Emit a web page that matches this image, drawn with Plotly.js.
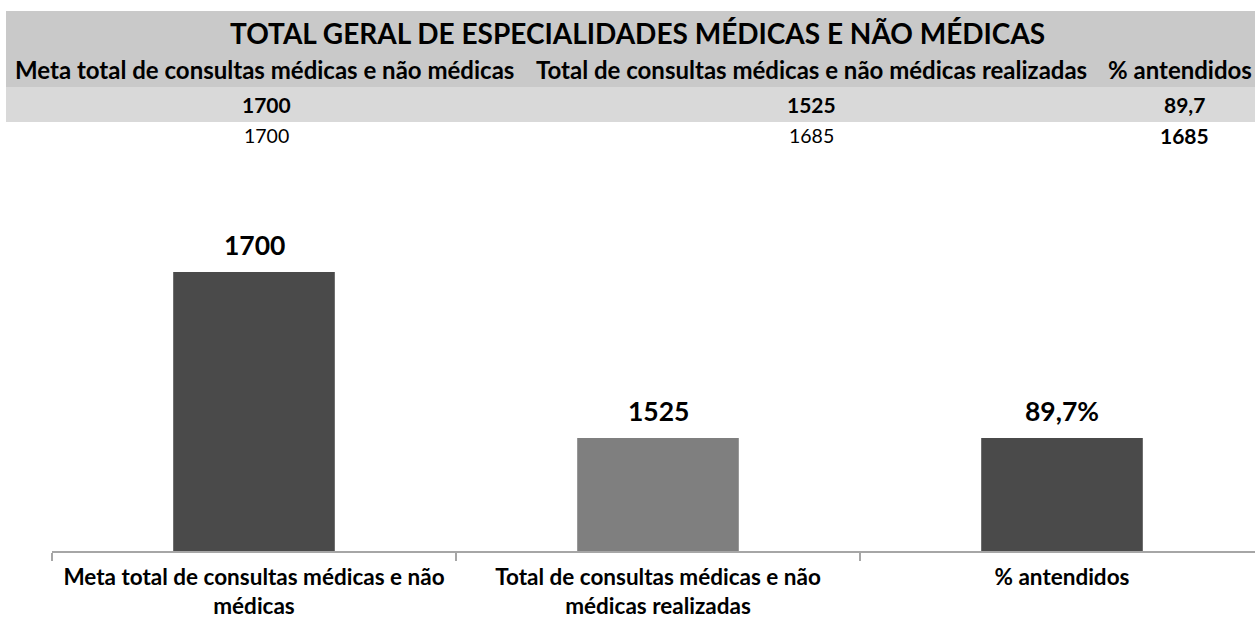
<!DOCTYPE html>
<html>
<head>
<meta charset="utf-8">
<script src="https://cdn.plot.ly/plotly-3.0.1.min.js"></script>
<style>html,body{margin:0;padding:0;background:#fff;}#chart{width:1255px;height:624px;}</style>
</head>
<body>
<div id="chart"></div>
<script>
// ---- data ----
const chartTitle = "TOTAL GERAL DE ESPECIALIDADES MÉDICAS E NÃO MÉDICAS";
const tableHeaders = ["Meta total de consultas médicas e não médicas", "Total de consultas médicas e não médicas realizadas", "% antendidos"];
const tableRow1 = ["1700", "1525", "89,7"];
const tableRow2 = ["1700", "1685", "1685"];
const tableRow2Bold = [false, false, true];
const categories = ["Meta total de consultas médicas e não médicas", "Total de consultas médicas e não médicas realizadas", "% antendidos"];
const tickLabels = ["Meta total de consultas médicas e não<br>médicas", "Total de consultas médicas e não<br>médicas realizadas", "% antendidos"];
const barValues = [1700, 1525, 1525];
const barLabels = ["1700", "1525", "89,7%"];
const barColors = ["#4a4a4a", "#7f7f7f", "#4a4a4a"];

// ---- layout geometry (pixels) ----
const W = 1255, H = 624;
const PL = 52, PR = 1255, PT = 200, PB = 551;
const FONT = "Lato, 'Open Sans', sans-serif";
const px = v => (v - PL) / (PR - PL);
const py = v => (PB - v) / (PB - PT);

const shapes = [
  {type: "rect", xref: "paper", yref: "paper", x0: px(6), x1: px(1255), y0: py(87), y1: py(11), fillcolor: "#c9c9c9", line: {width: 0}, layer: "below"},
  {type: "rect", xref: "paper", yref: "paper", x0: px(6), x1: px(1255), y0: py(122), y1: py(87), fillcolor: "#d9d9d9", line: {width: 0}, layer: "below"}
];

const headerCenters = [264, 811, 1180];
const valueCenters = [266, 811, 1184];
const annotations = [];
annotations.push({xref: "paper", yref: "paper", x: px(637), y: py(33), text: "<b>" + chartTitle + "</b>", showarrow: false, xanchor: "center", yanchor: "middle", font: {family: FONT, size: 28, color: "#000"}});
tableHeaders.forEach((h, i) => annotations.push({xref: "paper", yref: "paper", x: px(headerCenters[i]), y: py(70), text: "<b>" + h + "</b>", showarrow: false, xanchor: "center", yanchor: "middle", font: {family: FONT, size: 24, color: "#000"}}));
tableRow1.forEach((v, i) => annotations.push({xref: "paper", yref: "paper", x: px(valueCenters[i]), y: py(105), text: "<b>" + v + "</b>", showarrow: false, xanchor: "center", yanchor: "middle", font: {family: FONT, size: 21, color: "#000"}}));
tableRow2.forEach((v, i) => annotations.push({xref: "paper", yref: "paper", x: px(valueCenters[i]), y: py(136), text: tableRow2Bold[i] ? "<b>" + v + "</b>" : v, showarrow: false, xanchor: "center", yanchor: "middle", font: {family: FONT, size: tableRow2Bold[i] ? 21 : 19.5, color: "#000"}}));
categories.forEach((c, i) => annotations.push({x: c, y: barValues[i], xref: "x", yref: "y", text: "<b>" + barLabels[i] + "</b>", showarrow: false, xanchor: "center", yanchor: "bottom", yshift: 9, font: {family: FONT, size: 26.5, color: "#000"}}));

const trace = {
  type: "bar",
  x: categories,
  y: barValues,
  marker: {color: barColors, line: {width: 0}},
  hoverinfo: "skip",
  showlegend: false
};

const layout = {
  width: W, height: H,
  margin: {l: PL, r: W - PR, t: PT, b: H - PB, pad: 0},
  paper_bgcolor: "#fff", plot_bgcolor: "#fff",
  bargap: 0.6,
  font: {family: FONT, color: "#000"},
  xaxis: {
    type: "category",
    range: [-0.5, -0.5 + (PR - PL) / 404],
    tickmode: "array", tickvals: categories, ticktext: tickLabels,
    tickson: "boundaries",
    ticks: "outside", ticklen: 8, tickcolor: "#a6a6a6", tickwidth: 1.5,
    ticklabelstandoff: 5,
    showline: true, linecolor: "#a6a6a6", linewidth: 2,
    showgrid: false, zeroline: false,
    tickfont: {family: FONT, size: 22.5, color: "#000", weight: "bold"},
    fixedrange: true
  },
  yaxis: {
    range: [1406, 1406 + (PB - PT) / 0.9486],
    visible: false, showgrid: false, zeroline: false, fixedrange: true
  },
  shapes: shapes,
  annotations: annotations
};

Plotly.newPlot("chart", [trace], layout, {displayModeBar: false, staticPlot: true});
</script>
</body>
</html>
